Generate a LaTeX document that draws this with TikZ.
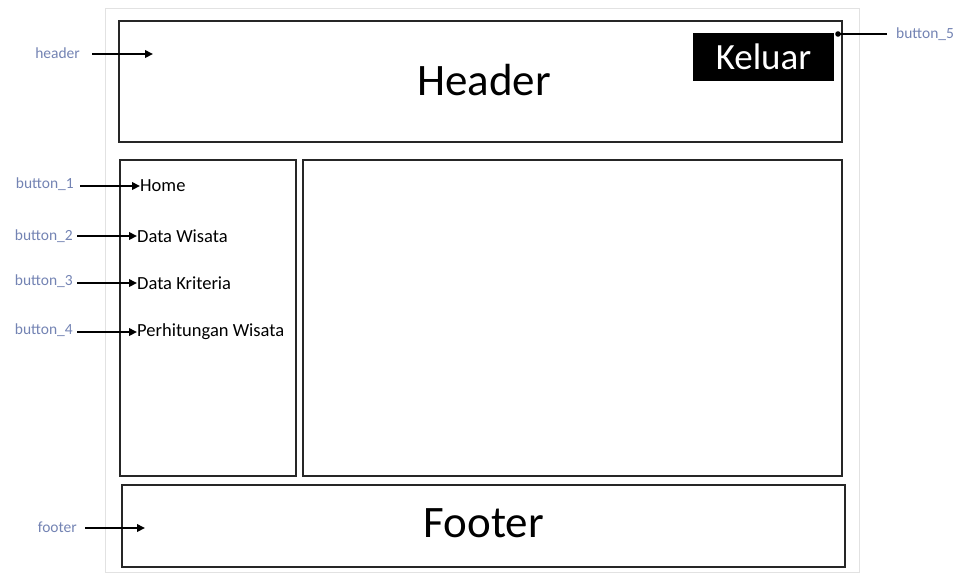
\documentclass[tikz,border=0pt]{standalone}
\usepackage{fontspec}
\setmainfont{Carlito}
\usetikzlibrary{arrows.meta}
\definecolor{labelblue}{HTML}{7383B3}
\definecolor{framegray}{HTML}{E2E2E2}
\tikzset{
  panel/.style={draw=black!85, line width=2.2pt, inner sep=0pt},
  tag/.style={text=labelblue, font=\fontsize{15.5}{17}\selectfont, inner sep=1pt},
  menu/.style={font=\fontsize{18.5}{20}\selectfont, inner sep=0pt, anchor=west},
  pointer/.style={line width=2.8pt, -{Triangle[length=8pt,width=7.5pt]}},
}
\begin{document}
\begin{tikzpicture}[x=1pt,y=-1pt]
\useasboundingbox (0,0) rectangle (963,574);
% page frame
\draw[framegray, line width=1pt] (105,8) rectangle (859,572);
% layout panels
\draw[panel] (119,21) rectangle (842,142);
\draw[panel] (120,160) rectangle (296,476);
\draw[panel] (303,160) rectangle (842,476);
\draw[panel] (122,485) rectangle (845,567);
\node[font=\fontsize{45}{50}\selectfont] (header) at (484,80) {Header};
\node[font=\fontsize{45}{50}\selectfont] (footer) at (484,523) {Footer};
% logout button
\node[fill=black, text=white, font=\fontsize{37}{40}\selectfont, minimum width=141pt, minimum height=48pt, inner sep=0pt] (keluar) at (763.5,57) {Keluar};
% menu entries
\node[menu] (m1) at (140,186) {Home};
\node[menu] (m2) at (137,236) {Data Wisata};
\node[menu] (m3) at (137,283) {Data Kriteria};
\node[menu] (m4) at (137,332) {Perhitungan Wisata};
% annotation tags
\node[tag, anchor=east] (lhead) at (81,53) {header};
\node[tag, anchor=east] (lb1) at (75,184) {button\_1};
\node[tag, anchor=east] (lb2) at (74,236) {button\_2};
\node[tag, anchor=east] (lb3) at (74,281) {button\_3};
\node[tag, anchor=east] (lb4) at (74,330) {button\_4};
\node[tag, anchor=east] (lfoot) at (78,527) {footer};
\node[tag, anchor=west] (lb5) at (895,34) {button\_5};
% pointer start and end points
\coordinate (shead) at (92,54);
\coordinate (thead) at (153,54);
\coordinate (sfoot) at (85,528);
\coordinate (tfoot) at (145,528);
\coordinate (s1) at (80,186);
\coordinate (s2) at (77,236);
\coordinate (s3) at (77,283);
\coordinate (s4) at (77,332);
\coordinate (sb5) at (887,34);
\coordinate (tb5) at (838,34);
\draw[pointer] (shead) -- (thead);
\draw[pointer] (s1) -- (s1 -| m1.west);
\draw[pointer] (s2) -- (s2 -| m2.west);
\draw[pointer] (s3) -- (s3 -| m3.west);
\draw[pointer] (s4) -- (s4 -| m4.west);
\draw[pointer] (sfoot) -- (tfoot);
\draw[line width=2.8pt] (sb5) -- (tb5);
\fill (tb5) circle (2.8pt);
\end{tikzpicture}
\end{document}
